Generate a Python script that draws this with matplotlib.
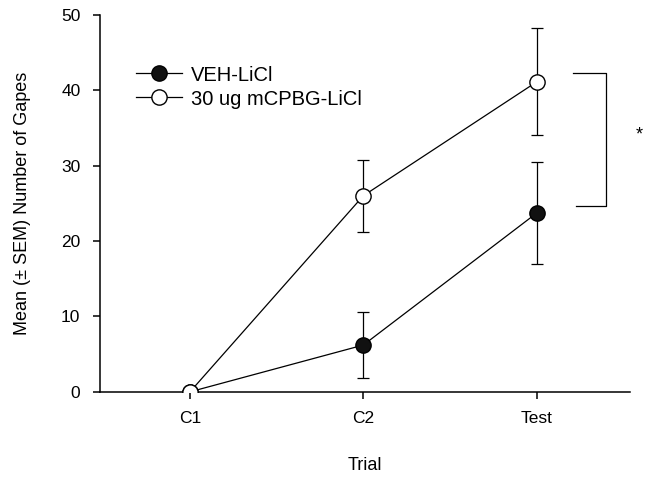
import matplotlib.pyplot as plt

plt.rcParams['font.family'] = ['Liberation Sans', 'DejaVu Sans']

# Data
trials = ['C1', 'C2', 'Test']
veh_mean = [0, 6.2, 23.7]
veh_sem = [0, 4.4, 6.8]
mcpbg_mean = [0, 26.0, 41.1]
mcpbg_sem = [0, 4.8, 7.1]

x = [1, 2, 3]

fig = plt.figure(figsize=(6.53, 4.79), dpi=100)
ax = fig.add_axes([0.153, 0.182, 0.812, 0.787])

# VEH-LiCl (filled)
ax.errorbar(x, veh_mean, yerr=veh_sem, color='black', marker='o', markersize=11,
            markerfacecolor='#111111', markeredgecolor='black', linewidth=0.9,
            elinewidth=0.9, capsize=4.5, capthick=0.9, label='VEH-LiCl', zorder=3)
# 30 ug mCPBG-LiCl (open)
ax.errorbar(x, mcpbg_mean, yerr=mcpbg_sem, color='black', marker='o', markersize=11,
            markerfacecolor='white', markeredgecolor='black', linewidth=0.9,
            elinewidth=0.9, capsize=4.5, capthick=0.9, label='30 ug mCPBG-LiCl', zorder=4)

# Significance bracket
ax.plot([3.21, 3.40, 3.40, 3.23], [42.3, 42.3, 24.7, 24.7], color='black',
        linewidth=0.9, clip_on=False)
ax.text(3.59, 34.1, '*', ha='center', va='center', fontsize=13, clip_on=False)

ax.set_xlim(0.48, 3.54)
ax.set_ylim(0, 50)
ax.set_xticks(x)
ax.set_xticklabels(trials)
ax.set_yticks([0, 10, 20, 30, 40, 50])

for side in ['top', 'right']:
    ax.spines[side].set_visible(False)
ax.spines['left'].set_linewidth(1.1)
ax.spines['bottom'].set_linewidth(1.1)
ax.tick_params(direction='out', length=5, width=1.1, labelsize=12.5, pad=9)

ax.set_xlabel('Trial', fontsize=13, labelpad=22)
ax.set_ylabel('Mean (\u00b1 SEM) Number of Gapes', fontsize=13, labelpad=22)

handles, labels = ax.get_legend_handles_labels()
handles = [h[0] for h in handles]
ax.legend(handles, labels, loc='upper left', bbox_to_anchor=(0.052, 0.887),
          frameon=False, fontsize=14.5, handlelength=2.3, handletextpad=0.45,
          labelspacing=0.25, borderaxespad=0)

plt.savefig('out.png', dpi=100)
